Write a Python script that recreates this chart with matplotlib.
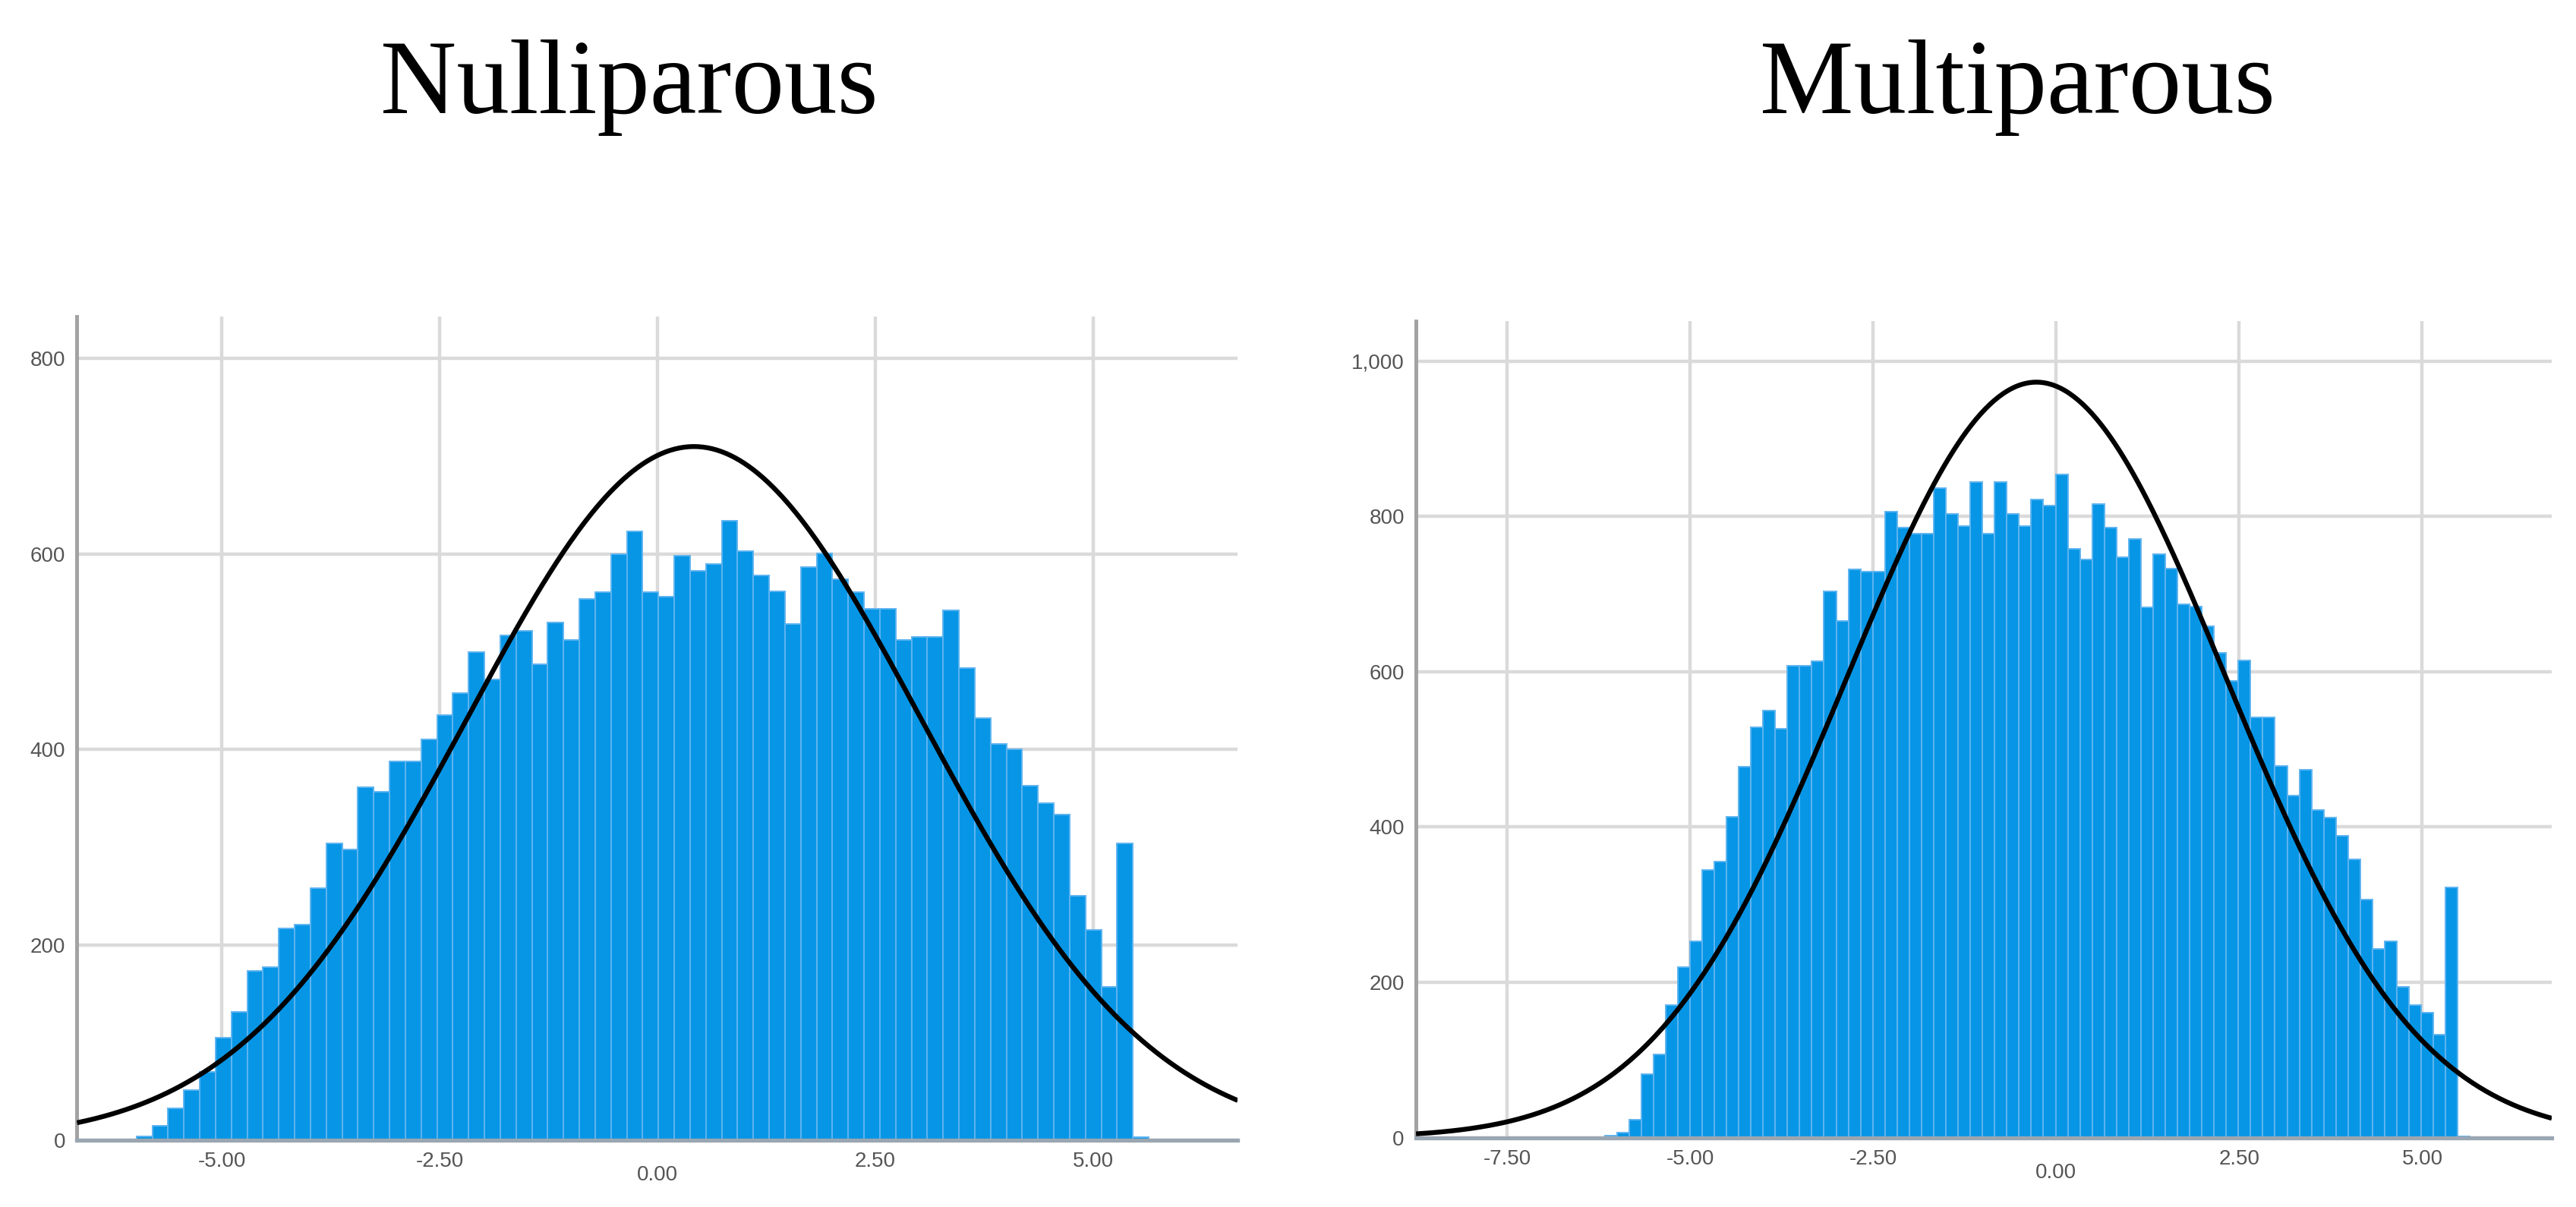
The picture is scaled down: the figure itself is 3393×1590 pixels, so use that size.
import numpy as np
import matplotlib
matplotlib.use("Agg")
import matplotlib.pyplot as plt
from matplotlib.ticker import FuncFormatter

# counts per bin, read left to right
nulli_counts = [4, 15, 33, 51, 70, 105, 131, 173, 177, 217, 221, 258, 304, 298,
                361, 357, 388, 388, 410, 435, 458, 500, 472, 517, 521, 487, 530,
                512, 554, 561, 600, 623, 561, 556, 598, 583, 590, 634, 603, 578,
                562, 528, 587, 601, 574, 561, 544, 544, 512, 515, 515, 542, 483,
                432, 406, 400, 363, 345, 333, 250, 215, 157, 304, 3]
nulli_bin_start = -5.978
nulli_bin_width = 0.1815
nulli_mean = 0.42
nulli_sd = 2.61
nulli_peak = 710
nulli_xticks = [-5.0, -2.5, 0.0, 2.5, 5.0]
nulli_yticks = [0, 200, 400, 600, 800]

multi_counts = [3, 6, 23, 82, 107, 171, 220, 253, 345, 355, 413, 478, 529, 550,
                527, 608, 608, 614, 704, 665, 732, 729, 729, 806, 786, 778, 778,
                837, 803, 788, 844, 778, 844, 803, 788, 822, 814, 854, 758, 745,
                816, 786, 748, 771, 683, 751, 733, 687, 684, 659, 624, 588, 615,
                541, 541, 479, 441, 474, 422, 412, 389, 358, 307, 243, 253, 194,
                171, 161, 133, 322, 2]
multi_bin_start = -6.169
multi_bin_width = 0.1665
multi_mean = -0.27
multi_sd = 2.60
multi_peak = 973
multi_xticks = [-7.5, -5.0, -2.5, 0.0, 2.5, 5.0]
multi_yticks = [0, 200, 400, 600, 800, 1000]

titles = ["Nulliparous", "Multiparous"]

BAR = "#0796e6"
BAR_EDGE = "#5fb4f0"
GRID = "#dadada"
TICK_TEXT = "#555555"


def draw_panel(ax, counts, start, width, mean, sd, peak, xlim, ylim, xticks, yticks):
    edges = start + width * np.arange(len(counts))
    ax.bar(edges, counts, width=width, align="edge", color=BAR,
           edgecolor=BAR_EDGE, linewidth=1.4, zorder=2)
    x = np.linspace(xlim[0], xlim[1], 500)
    y = peak * np.exp(-0.5 * ((x - mean) / sd) ** 2)
    ax.plot(x, y, color="black", lw=4.6, zorder=3, solid_capstyle="butt")

    ax.set_xlim(*xlim)
    ax.set_ylim(*ylim)
    ax.set_axisbelow(True)
    ax.grid(True, color=GRID, lw=3.2)

    ax.set_xticks(xticks)
    ax.set_xticklabels([f"{t:.2f}" for t in xticks])
    ax.set_yticks(yticks)
    ax.yaxis.set_major_formatter(FuncFormatter(lambda v, p: f"{int(v):,}"))

    for side in ("top", "right"):
        ax.spines[side].set_visible(False)
    ax.spines["left"].set_color("#a3a3a3")
    ax.spines["left"].set_linewidth(3.6)
    ax.spines["bottom"].set_color("#9aa6b2")
    ax.spines["bottom"].set_linewidth(3.8)
    ax.spines["bottom"].set_zorder(4)

    ax.tick_params(length=0, labelsize=20, labelcolor=TICK_TEXT)
    ax.tick_params(axis="y", pad=11)
    ax.tick_params(axis="x", pad=11)
    for lab in ax.get_xticklabels() + ax.get_yticklabels():
        lab.set_family("Liberation Sans")
    # SPSS drops the 0.00 label a little lower
    for tick, t in zip(ax.xaxis.get_major_ticks(), xticks):
        if t == 0.0:
            tick.set_pad(24)


fig = plt.figure(figsize=(33.93, 15.90), dpi=100)
ax1 = fig.add_axes([0.0299, 0.0553, 0.4506, 0.6824])
ax2 = fig.add_axes([0.5497, 0.0575, 0.4409, 0.6767])

draw_panel(ax1, nulli_counts, nulli_bin_start, nulli_bin_width, nulli_mean,
           nulli_sd, nulli_peak, (-6.66, 6.66), (0, 843), nulli_xticks, nulli_yticks)
draw_panel(ax2, multi_counts, multi_bin_start, multi_bin_width, multi_mean,
           multi_sd, multi_peak, (-8.745, 6.77), (0, 1052), multi_xticks, multi_yticks)

fig.text(0.2443, 0.906, titles[0], family="Liberation Serif", size=100,
         ha="center", va="baseline")
fig.text(0.7831, 0.906, titles[1], family="Liberation Serif", size=100,
         ha="center", va="baseline")

fig.savefig("out.png", dpi=100)
